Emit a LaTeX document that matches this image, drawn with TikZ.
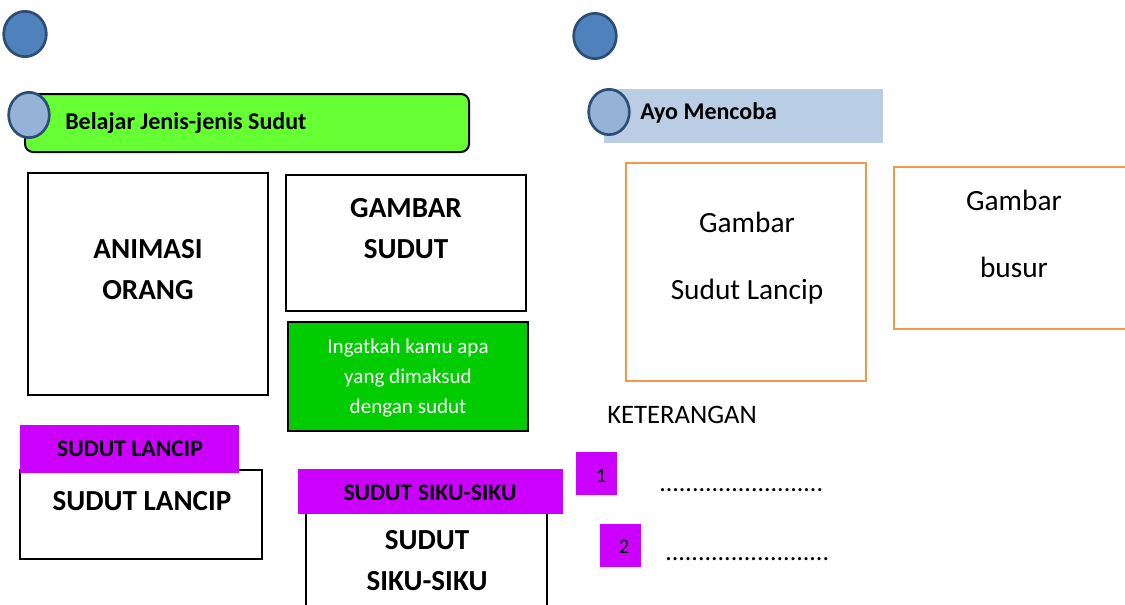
\documentclass[tikz,border=0pt]{standalone}
\usepackage{fontspec}
\setmainfont{Carlito}
\usetikzlibrary{shapes.geometric}
\definecolor{dotblue}{HTML}{4F81BD}
\definecolor{dotpale}{HTML}{95B3D7}
\definecolor{dotrim}{HTML}{2C4D75}
\definecolor{headgreen}{HTML}{66FF33}
\definecolor{headblue}{HTML}{B9CDE5}
\definecolor{notegreen}{HTML}{00CC00}
\definecolor{tagpurple}{HTML}{CC00FF}
\definecolor{frameorange}{HTML}{F79646}
\tikzset{
  bigdot/.style={ellipse, draw=dotrim, fill=dotblue, line width=2pt,
                 minimum width=32pt, minimum height=34pt, inner sep=0pt},
  smalldot/.style={bigdot, fill=dotpale, minimum width=30.5pt,
                   minimum height=34pt},
  box/.style={draw=black, fill=white, line width=1.5pt},
  notebox/.style={box, fill=notegreen},
  framebox/.style={draw=frameorange, line width=1.9pt},
  tag/.style={fill=tagpurple},
  headlabel/.style={font=\bfseries\fontsize{18}{22}\selectfont,
                    anchor=west, inner sep=0pt},
  biglabel/.style={font=\bfseries\fontsize{21.8}{30.75}\selectfont,
                   align=center, inner sep=0pt},
  taglabel/.style={font=\bfseries\fontsize{17.8}{21}\selectfont,
                   align=center, inner sep=0pt},
  notelabel/.style={font=\fontsize{15.8}{22.5}\selectfont, text=white,
                    align=center, inner sep=0pt},
  framelabel/.style={font=\fontsize{22}{50.5}\selectfont,
                     align=center, inner sep=0pt},
  numlabel/.style={font=\fontsize{15.5}{18}\selectfont, inner sep=0pt},
  fillline/.style={font=\fontsize{19.5}{22}\selectfont, anchor=west,
                   inner sep=0pt}
}

\begin{document}
\begin{tikzpicture}[x=0.75pt,y=-0.75pt]
  \path[use as bounding box] (0,0) rectangle (1125,604);

  % Left page: title bar, picture boxes and the reminder note.
  \node[bigdot] (pageleft) at (25,34) {};
  \path[box, fill=headgreen, rounded corners=6pt] (25,94) rectangle (469,152);
  \node[smalldot] (markleft) at (29,115) {};
  \node[headlabel] (belajar) at (65,123) {Belajar Jenis-jenis Sudut};

  \path[box] (28,173) rectangle (268,395);
  \node[biglabel] (animasi) at (148,270) {ANIMASI\\ORANG};
  \path[box] (286,175) rectangle (526,311);
  \node[biglabel] (gambarsudut) at (406,229) {GAMBAR\\SUDUT};
  \path[notebox] (288,322) rectangle (528,431);
  \node[notelabel] (ingat) at (408,378)
    {Ingatkah kamu apa\\yang dimaksud\\dengan sudut};

  % Angle cards, each with its purple tag laid over the top edge.
  \path[box] (20,470) rectangle (262,559);
  \node[biglabel] (lancip) at (142,501) {SUDUT LANCIP};
  \path[tag] (20,425) rectangle (239,473);
  \node[taglabel] (taglancip) at (130,449) {SUDUT LANCIP};

  \path[box] (306,510) rectangle (547,620);
  \node[biglabel] (siku) at (427,561) {SUDUT\\SIKU-SIKU};
  \path[tag] (298,469) rectangle (563,514);
  \node[taglabel] (tagsiku) at (430,493) {SUDUT SIKU-SIKU};

  % Right page: exercise header, picture frames and the notes list.
  \node[bigdot] (pageright) at (595,36) {};
  \path[fill=headblue] (604,89) rectangle (883,143);
  \node[smalldot] (markright) at (609,112) {};
  \node[headlabel] (ayo) at (640,113) {Ayo Mencoba};

  \path[framebox] (626,163) rectangle (866,381);
  \node[framelabel] (gambarlancip) at (747,258) {Gambar\\Sudut Lancip};
  \path[framebox] (894,167) rectangle (1140,329);
  \node[framelabel] (gambarbusur) at (1014,234) {Gambar\\busur};

  \node[fillline, font=\fontsize{20}{24}\selectfont] (keterangan)
    at (607,415) {KETERANGAN};
  \path[tag] (576,452) rectangle (617,495);
  \node[numlabel] (satu) at (601,476) {1};
  \path[tag] (600,524) rectangle (641,567);
  \node[numlabel] (dua) at (624,547) {2};
  \node[fillline] (isisatu) at (659,490.5) {.........................};
  \node[fillline] (isidua) at (665,559.5) {.........................};
\end{tikzpicture}
\end{document}
